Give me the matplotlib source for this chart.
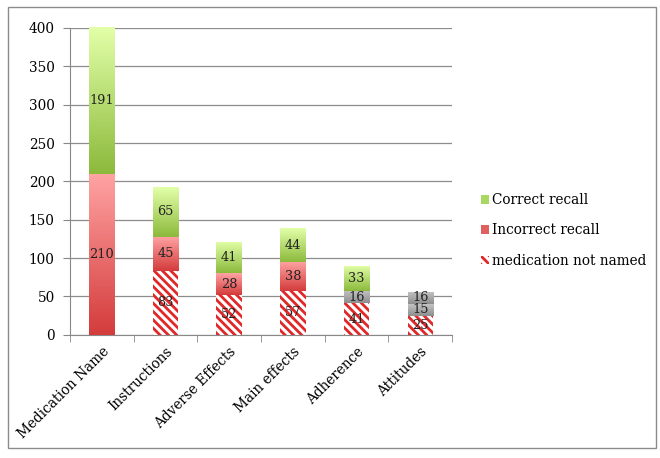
import matplotlib.pyplot as plt
import numpy as np
from matplotlib.colors import LinearSegmentedColormap
from matplotlib.patches import Rectangle

plt.rcParams['font.family'] = ['DejaVu Serif']
plt.rcParams['hatch.linewidth'] = 2.0

# Data
categories = ['Medication Name', 'Instructions', 'Adverse Effects',
              'Main effects', 'Adherence', 'Attitudes']
not_named = [0, 83, 52, 57, 41, 25]
incorrect = [210, 45, 28, 38, 16, 15]
correct = [191, 65, 41, 44, 33, 16]
# segments drawn in gray in the original
gray_incorrect = [False, False, False, False, True, True]
gray_correct = [False, False, False, False, False, True]

green = LinearSegmentedColormap.from_list('g', ['#8cba3c', '#e2ffa8'])
red = LinearSegmentedColormap.from_list('r', ['#d43c3c', '#ffa3a3'])
gray = LinearSegmentedColormap.from_list('k', ['#8e8e8e', '#c4c4c4'])

FS = 9.8

fig = plt.figure(figsize=(6.6, 4.58), dpi=100)
ax = fig.add_axes([0.106, 0.269, 0.579, 0.670])

x = np.arange(len(categories))
width = 0.4
grad = np.linspace(0, 1, 100).reshape(-1, 1)


def gradient_bars(xs, heights, bottoms, cmaps):
    bars = ax.bar(xs, heights, width, bottom=bottoms, color='none',
                  edgecolor='none', zorder=3)
    for b, cm in zip(bars, cmaps):
        if b.get_height() <= 0:
            continue
        x0, y0 = b.get_x(), b.get_y()
        im = ax.imshow(grad, cmap=cm, origin='lower', aspect='auto',
                       extent=[x0, x0 + b.get_width(), y0, y0 + b.get_height()],
                       zorder=3)
        im.set_clip_path(b)
    return bars


ax.bar(x, not_named, width, color='white', edgecolor='#e02828',
       hatch='\\\\\\\\', linewidth=0, zorder=3)
bottom2 = np.array(not_named)
gradient_bars(x, incorrect, bottom2,
              [gray if g else red for g in gray_incorrect])
bottom3 = bottom2 + np.array(incorrect)
gradient_bars(x, correct, bottom3,
              [gray if g else green for g in gray_correct])

# value labels
for i in range(len(categories)):
    for val, base in [(not_named[i], 0), (incorrect[i], bottom2[i]),
                      (correct[i], bottom3[i])]:
        if val > 0:
            ax.text(x[i], base + val / 2, str(val), ha='center', va='center',
                    fontsize=9.3, color='#222222', zorder=5)

ax.set_xlim(-0.5, len(categories) - 0.5)
ax.set_ylim(0, 400)
ax.set_yticks(range(0, 401, 50))
ax.set_xticks(x)
ax.set_xticklabels(categories, rotation=45, ha='right', rotation_mode='anchor',
                   fontsize=FS)
ax.set_xticks(np.arange(-0.5, len(categories)), minor=True)
ax.tick_params(axis='x', which='major', length=0, pad=7)
ax.tick_params(axis='x', which='minor', length=5, color='#888888')
ax.tick_params(axis='y', length=5, color='#888888', labelsize=FS, pad=6)
ax.grid(axis='y', color='#8c8c8c', linewidth=0.9, zorder=0)
ax.set_axisbelow(True)
for s in ['top', 'right']:
    ax.spines[s].set_visible(False)
for s in ['left', 'bottom']:
    ax.spines[s].set_color('#888888')

# legend
handles = [Rectangle((0, 0), 1, 1, facecolor='#a8d860'),
           Rectangle((0, 0), 1, 1, facecolor='#e06060'),
           Rectangle((0, 0), 1, 1, facecolor='white', edgecolor='#e02828',
                     hatch='\\\\\\\\', linewidth=0)]
fig.legend(handles, ['Correct recall', 'Incorrect recall', 'medication not named'],
           loc='center left', bbox_to_anchor=(0.71, 0.497), frameon=False,
           fontsize=FS, handlelength=0.6, handleheight=0.6, handletextpad=0.25,
           labelspacing=1.2)

# outer chart border
fig.patches.append(Rectangle((0.012, 0.022), 0.982, 0.963, transform=fig.transFigure,
                             fill=False, edgecolor='#8c8c8c', linewidth=1))

fig.savefig('out.png', dpi=100)
